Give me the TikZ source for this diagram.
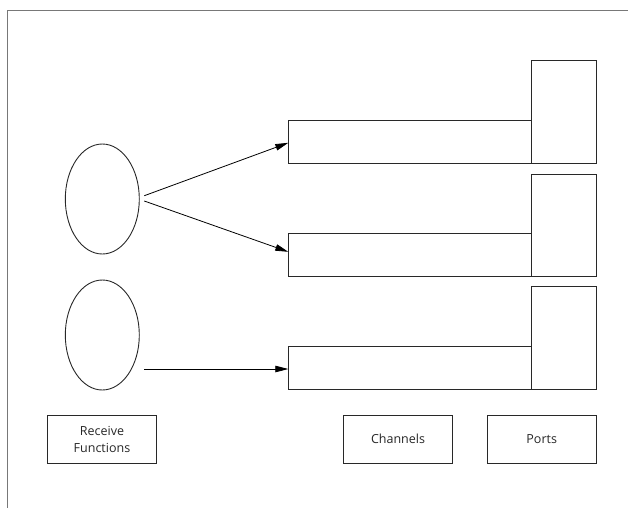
\documentclass[tikz,border=0pt]{standalone}
\usepackage{fontspec}
\setmainfont{Open Sans}
\usetikzlibrary{shapes.geometric,arrows.meta}
\definecolor{inkline}{RGB}{40,40,40}
\definecolor{framegray}{RGB}{120,120,120}
\begin{document}
\begin{tikzpicture}[x=1pt,y=-1pt,
  every node/.style={inner sep=0pt,outer sep=0pt},
  shape line/.style={draw=inkline,line width=0.9pt},
  recv/.style={shape line,ellipse,minimum width=74pt,minimum height=110pt},
  chan/.style={shape line,rectangle,minimum width=242.7pt,minimum height=43pt},
  port/.style={shape line,rectangle,minimum width=65.5pt,minimum height=102.7pt},
  legend/.style={shape line,rectangle,minimum width=109pt,minimum height=48.3pt,
    font=\fontsize{12.5}{17}\selectfont,align=center,text=black!85},
  link/.style={draw=black,line width=0.8pt,-{Triangle[length=13pt,width=6.5pt]}}
]
\useasboundingbox (0,0) rectangle (628,507);
% outer frame, running off the right and bottom edges
\draw[draw=framegray,line width=1.3pt] (640,10.5) -- (7.5,10.5) -- (7.5,520);

% receive functions
\node[recv] (e1) at (102.3,199) {};
\node[recv] (e2) at (102.3,335) {};

% channels
\node[chan] (c1) at (409.65,141.8) {};
\node[chan] (c2) at (409.65,255.3) {};
\node[chan] (c3) at (409.65,368) {};

% ports
\node[port] (p1) at (563.75,111.8) {};
\node[port] (p2) at (563.75,225.35) {};
\node[port] (p3) at (563.75,338) {};

% connector tails (shifts are in page orientation: positive is up)
\coordinate (s1) at ([xshift=5pt,yshift=3.3pt]e1.east);
\coordinate (s2) at ([xshift=5pt,yshift=-2pt]e1.east);
\coordinate (s3) at ([xshift=5pt,yshift=-34pt]e2.east);

\draw[link] (s1) -- ([yshift=-1pt]c1.west);
\draw[link] (s2) -- ([yshift=3.5pt]c2.west);
\draw[link] (s3) -- ([yshift=-1pt]c3.west);

% legend boxes
\node[legend] (lr) at (102,439.2) {Receive\\Functions};
\node[legend] (lc) at (398,439.2) {Channels};
\node[legend] (lp) at (541.7,439.2) {Ports};
\end{tikzpicture}
\end{document}
